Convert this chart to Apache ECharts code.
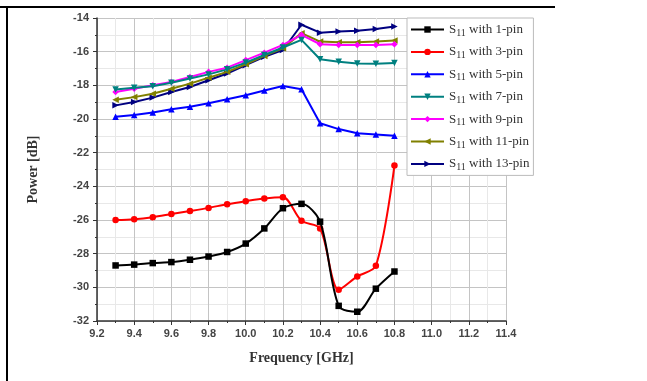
<!DOCTYPE html>
<html>
<head>
<meta charset="utf-8">
<script src="https://cdn.jsdelivr.net/npm/echarts@6/dist/echarts.min.js"></script>
<style>html,body{margin:0;padding:0;background:#fff;}#c{width:647px;height:381px;}</style>
</head>
<body>
<div id="c"></div>
<script>
var freq = [9.3, 9.4, 9.5, 9.6, 9.7, 9.8, 9.9, 10.0, 10.1, 10.2, 10.3, 10.4, 10.5, 10.6, 10.7, 10.8];
var pin1 = [-28.7, -28.65, -28.56, -28.5, -28.36, -28.17, -27.9, -27.4, -26.5, -25.3, -25.04, -26.1, -31.1, -31.45, -30.08, -29.06];
var pin3 = [-26.0, -25.95, -25.83, -25.65, -25.47, -25.28, -25.06, -24.88, -24.72, -24.65, -26.05, -26.5, -30.14, -29.35, -28.72, -22.76];
var pin5 = [-19.86, -19.76, -19.62, -19.42, -19.27, -19.07, -18.83, -18.59, -18.31, -18.04, -18.23, -20.25, -20.6, -20.85, -20.92, -21.0];
var pin7 = [-18.25, -18.15, -18.05, -17.85, -17.6, -17.35, -17.05, -16.65, -16.2, -15.75, -15.3, -16.45, -16.6, -16.7, -16.72, -16.68];
var pin9 = [-18.4, -18.2, -18.0, -17.8, -17.5, -17.2, -16.95, -16.5, -16.06, -15.6, -15.0, -15.56, -15.6, -15.6, -15.6, -15.56];
var pin11 = [-18.85, -18.7, -18.5, -18.2, -17.9, -17.55, -17.2, -16.75, -16.25, -15.8, -14.9, -15.4, -15.44, -15.44, -15.4, -15.34];
var pin13 = [-19.19, -18.99, -18.73, -18.4, -18.1, -17.7, -17.3, -16.8, -16.3, -15.9, -14.4, -14.87, -14.8, -14.76, -14.66, -14.5];
var seriesNames = ['S11 with 1-pin', 'S11 with 3-pin', 'S11 with 5-pin', 'S11 with 7-pin', 'S11 with 9-pin', 'S11 with 11-pin', 'S11 with 13-pin'];
var seriesValues = [pin1, pin3, pin5, pin7, pin9, pin11, pin13];
var colors = ['#000000', '#ff0000', '#0000ff', '#008080', '#ff00ff', '#808000', '#000080'];
var symbols = ['rect', 'circle', 'triangle', 'triangle', 'diamond', 'triangle', 'triangle'];
var rotations = [0, 0, 0, 180, 0, 90, -90];
var smoothing = [0.3, 0.3, false, false, false, false, false];

function pairs(v) { return freq.map(function (f, i) { return [f, v[i]]; }); }

var chart = echarts.init(document.getElementById('c'));
var series = seriesNames.map(function (n, i) {
  return {
    name: n, type: 'line', data: pairs(seriesValues[i]),
    smooth: smoothing[i],
    symbol: symbols[i], symbolRotate: rotations[i], symbolSize: 6.5,
    showAllSymbol: true,
    lineStyle: { color: colors[i], width: 2 },
    itemStyle: { color: colors[i] },
    emphasis: { disabled: true },
    z: 10 - i
  };
});

var tickFont = { fontFamily: 'Liberation Sans', fontWeight: 'bold', fontSize: 11, color: '#444' };
chart.setOption({
  animation: false,
  backgroundColor: '#fff',
  grid: { left: 97, right: 141, top: 18, bottom: 60 },
  xAxis: {
    type: 'value', min: 9.2, max: 11.4, interval: 0.2,
    name: 'Frequency [GHz]', nameLocation: 'middle', nameGap: 30,
    nameTextStyle: { fontFamily: 'Liberation Serif', fontWeight: 'bold', fontSize: 14, color: '#333' },
    axisLine: { show: true, lineStyle: { color: '#333', width: 1.5 } },
    axisTick: { show: true, length: 4, lineStyle: { color: '#333' } },
    minorTick: { show: true, splitNumber: 2, length: 2, lineStyle: { color: '#333' } },
    axisLabel: Object.assign({ margin: 7, formatter: function (v) { return v.toFixed(1); } }, tickFont),
    splitLine: { show: true, lineStyle: { color: '#c4c4c4', width: 1 } },
    minorSplitLine: { show: true, lineStyle: { color: '#e8e8e8', width: 1 } }
  },
  yAxis: {
    type: 'value', min: -32, max: -14, interval: 2,
    name: 'Power [dB]', nameLocation: 'middle', nameGap: 57,
    nameTextStyle: { fontFamily: 'Liberation Serif', fontWeight: 'bold', fontSize: 14, color: '#333' },
    axisLine: { show: true, lineStyle: { color: '#333', width: 1.5 } },
    axisTick: { show: true, length: 4, lineStyle: { color: '#333' } },
    minorTick: { show: true, splitNumber: 2, length: 2, lineStyle: { color: '#333' } },
    axisLabel: Object.assign({ margin: 8 }, tickFont),
    splitLine: { show: true, lineStyle: { color: '#c4c4c4', width: 1 } },
    minorSplitLine: { show: true, lineStyle: { color: '#e8e8e8', width: 1 } }
  },
  legend: {
    orient: 'vertical', left: 407, top: 18,
    backgroundColor: '#fff', borderColor: '#bbb', borderWidth: 1,
    padding: [3, 4, 3, 3],
    itemWidth: 33, itemHeight: 8, itemGap: 5.4,
    data: seriesNames,
    formatter: function (n) {
      return '{s|S}{sub|11}{s|' + n.replace('S11', '') + '}';
    },
    textStyle: {
      fontFamily: 'Liberation Serif', fontSize: 13, color: '#333',
      rich: {
        s: { fontFamily: 'Liberation Serif', fontSize: 13, color: '#333', lineHeight: 14 },
        sub: { fontFamily: 'Liberation Serif', fontSize: 10, color: '#333', padding: [7, 0, 0, 0], lineHeight: 14 }
      }
    }
  },
  graphic: [
    { type: 'rect', shape: { x: 0, y: 6, width: 555, height: 2 }, style: { fill: '#000' }, z: 100 },
    { type: 'rect', shape: { x: 6, y: 6, width: 2, height: 375 }, style: { fill: '#000' }, z: 100 }
  ],
  series: series
});
</script>
</body>
</html>
